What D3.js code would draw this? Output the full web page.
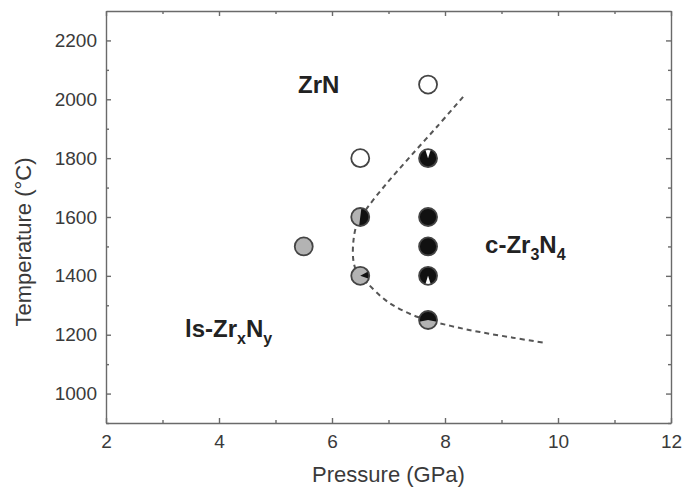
<!DOCTYPE html>
<html>
<head>
<meta charset="utf-8">
<script src="https://cdn.jsdelivr.net/npm/d3@7"></script>
<style>
  body { margin: 0; background: #fff; }
  svg { font-family: "Liberation Sans", Arial, sans-serif; }
  .axis text { fill: #3a3a3a; font-size: 19px; }
  .axis path, .axis line { stroke: #6a6a6a; stroke-width: 1.4; }
</style>
</head>
<body>
<svg class="phase-chart"></svg>
<script>
// data points
let pressure    = [7.7, 6.5, 5.5, 6.5, 6.5, 7.7, 7.7, 7.7, 7.7, 7.7];
let temperature = [2050, 1800, 1500, 1600, 1400, 1800, 1600, 1500, 1400, 1250];
// base fill of the circle and the wedge drawn on top (turn fractions, 0 = 12 o'clock)
let baseFill    = ["white", "white", "gray", "gray", "gray", "black", "black", "black", "black", "gray"];
let wedgeFill   = [null, null, null, "black", "black", "white", null, null, "white", "black"];
let wedgeStart  = [0, 0, 0, 0.02, 0.17, -0.05, 0, 0, 0.45, -0.28];
let wedgeEnd    = [0, 0, 0, 0.52, 0.30, 0.05, 0, 0, 0.55, 0.28];

// dashed phase boundary
let boundaryP = [8.32, 7.85, 7.36, 6.95, 6.62, 6.45, 6.38, 6.38, 6.45, 6.62, 7.0, 7.52, 8.1, 8.62, 9.2, 9.77];
let boundaryT = [2008, 1905, 1800, 1710, 1630, 1580, 1520, 1450, 1410, 1376, 1310, 1260, 1230, 1209, 1190, 1172];

let xTicks = [2, 4, 6, 8, 10, 12];
let yTicks = [1000, 1200, 1400, 1600, 1800, 2000, 2200];

let colors = { white: "#ffffff", gray: "#b3b3b3", black: "#111111" };

let width = 682, height = 491;
let margin = { top: 11, right: 11, bottom: 68, left: 106 };
let innerW = width - margin.left - margin.right;
let innerH = height - margin.top - margin.bottom;

let svg = d3.select(".phase-chart")
    .attr("width", width)
    .attr("height", height)
    .append("g")
    .attr("transform", "translate(" + margin.left + "," + margin.top + ")");

let xScale = d3.scaleLinear().domain([2, 12]).range([0, innerW]);
let yScale = d3.scaleLinear().domain([900, 2300]).range([innerH, 0]);

let minorX = d3.range(3, 12, 2);
let minorY = d3.range(900, 2300, 200);
let fmt = d3.format("d");

// bottom axis
svg.append("g")
    .attr("class", "axis")
    .attr("transform", "translate(0," + innerH + ")")
    .call(d3.axisBottom(xScale).tickValues(xTicks).tickSizeInner(-5).tickSizeOuter(0).tickPadding(12).tickFormat(fmt));
svg.append("g")
    .attr("class", "axis")
    .attr("transform", "translate(0," + innerH + ")")
    .call(d3.axisBottom(xScale).tickValues(minorX).tickSize(-3).tickFormat(""))
    .select(".domain").remove();

// top axis
svg.append("g")
    .attr("class", "axis")
    .call(d3.axisTop(xScale).tickValues(xTicks).tickSizeInner(-5).tickSizeOuter(0).tickFormat(""));
svg.append("g")
    .attr("class", "axis")
    .call(d3.axisTop(xScale).tickValues(minorX).tickSize(-3).tickFormat(""))
    .select(".domain").remove();

// left axis
svg.append("g")
    .attr("class", "axis")
    .call(d3.axisLeft(yScale).tickValues(yTicks).tickSizeInner(-5).tickSizeOuter(0).tickPadding(9).tickFormat(fmt));
svg.append("g")
    .attr("class", "axis")
    .call(d3.axisLeft(yScale).tickValues(minorY).tickSize(-3).tickFormat(""))
    .select(".domain").remove();

// right axis
svg.append("g")
    .attr("class", "axis")
    .attr("transform", "translate(" + innerW + ",0)")
    .call(d3.axisRight(yScale).tickValues(yTicks).tickSizeInner(-5).tickSizeOuter(0).tickFormat(""));
svg.append("g")
    .attr("class", "axis")
    .attr("transform", "translate(" + innerW + ",0)")
    .call(d3.axisRight(yScale).tickValues(minorY).tickSize(-3).tickFormat(""))
    .select(".domain").remove();

// axis titles
svg.append("text")
    .attr("x", innerW / 2)
    .attr("y", innerH + 59)
    .attr("text-anchor", "middle")
    .style("font-size", "22px")
    .style("fill", "#3a3a3a")
    .text("Pressure (GPa)");

svg.append("text")
    .attr("transform", "translate(-75," + (innerH / 2 + 25) + ") rotate(-90)")
    .attr("text-anchor", "middle")
    .style("font-size", "22px")
    .style("fill", "#3a3a3a")
    .text("Temperature (°C)");

// boundary line
let boundary = boundaryP.map(function(p, i) { return { x: p, y: boundaryT[i] }; });
let line = d3.line()
    .x(function(d) { return xScale(d.x); })
    .y(function(d) { return yScale(d.y); })
    .curve(d3.curveCatmullRom);

svg.append("path")
    .data([boundary])
    .attr("fill", "none")
    .attr("stroke", "#555")
    .attr("stroke-width", 2)
    .attr("stroke-dasharray", "5,4")
    .attr("d", line);

// markers
let r = 9;
let arc = d3.arc().innerRadius(0).outerRadius(r);

let dots = svg.selectAll(".dot")
    .data(pressure)
    .enter().append("g")
    .attr("class", "dot")
    .attr("transform", function(d, i) {
        return "translate(" + xScale(d) + "," + yScale(temperature[i]) + ")";
    });

dots.append("circle")
    .attr("r", r)
    .attr("fill", function(d, i) { return colors[baseFill[i]]; });

dots.each(function(d, i) {
    if (wedgeFill[i] === null) return;
    d3.select(this).append("path")
        .attr("fill", colors[wedgeFill[i]])
        .attr("d", arc({ startAngle: wedgeStart[i] * 2 * Math.PI, endAngle: wedgeEnd[i] * 2 * Math.PI }));
});

dots.append("circle")
    .attr("r", r)
    .attr("fill", "none")
    .attr("stroke", "#444")
    .attr("stroke-width", 1.8);

// phase labels
let label = svg.append("g")
    .style("font-weight", "bold")
    .style("font-size", "24px")
    .style("fill", "#222");

label.append("text")
    .attr("x", xScale(5.4))
    .attr("y", yScale(2021))
    .text("ZrN");

let t2 = label.append("text")
    .attr("x", xScale(8.71))
    .attr("y", yScale(1478));
t2.append("tspan").text("c-Zr");
t2.append("tspan").attr("dy", 7).style("font-size", "16px").text("3");
t2.append("tspan").attr("dy", -7).text("N");
t2.append("tspan").attr("dy", 7).style("font-size", "16px").text("4");

let t3 = label.append("text")
    .attr("x", xScale(3.4))
    .attr("y", yScale(1192));
t3.append("tspan").text("ls-Zr");
t3.append("tspan").attr("dy", 7).style("font-size", "16px").text("x");
t3.append("tspan").attr("dy", -7).text("N");
t3.append("tspan").attr("dy", 7).style("font-size", "16px").text("y");
</script>
</body>
</html>
